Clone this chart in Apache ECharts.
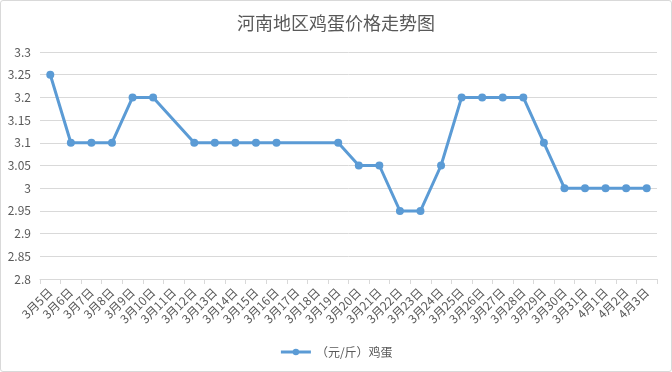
<!DOCTYPE html>
<html>
<head>
<meta charset="utf-8">
<script src="https://cdn.jsdelivr.net/npm/echarts@6/dist/echarts.min.js"></script>
<style>
html,body{margin:0;padding:0;background:#fff;}
#c{width:672px;height:372px;box-sizing:border-box;border:1px solid #d9d9d9;border-radius:3px;}
</style>
</head>
<body>
<div id="c"></div>
<script>
const categories = ['3月5日','3月6日','3月7日','3月8日','3月9日','3月10日','3月11日','3月12日','3月13日','3月14日','3月15日','3月16日','3月17日','3月18日','3月19日','3月20日','3月21日','3月22日','3月23日','3月24日','3月25日','3月26日','3月27日','3月28日','3月29日','3月30日','3月31日','4月1日','4月2日','4月3日'];
const eggPrice = [3.25,3.1,3.1,3.1,3.2,3.2,null,3.1,3.1,3.1,3.1,3.1,null,null,3.1,3.05,3.05,2.95,2.95,3.05,3.2,3.2,3.2,3.2,3.1,3.0,3.0,3.0,3.0,3.0];
const seriesName = '（元/斤）鸡蛋';
const titleText = '河南地区鸡蛋价格走势图';

const font = '"Noto Sans CJK SC", "Noto Sans", sans-serif';
const chart = echarts.init(document.getElementById('c'), null, {renderer:'canvas'});
chart.setOption({
  animation:false,
  textStyle:{fontFamily:font},
  title:{text:titleText,left:'center',top:8,textStyle:{fontSize:18,fontWeight:'normal',color:'#595959',fontFamily:font}},
  legend:{bottom:8,left:'center',itemWidth:30,itemHeight:8,lineStyle:{width:3},textStyle:{fontSize:12,color:'#595959',fontFamily:font},data:[seriesName]},
  grid:{left:39,right:14,top:51,bottom:92},
  xAxis:{type:'category',data:categories,boundaryGap:true,
    axisLine:{lineStyle:{color:'#d9d9d9',width:1}},
    axisTick:{show:true,length:5,lineStyle:{color:'#d9d9d9'}},
    axisLabel:{rotate:45,interval:0,fontSize:12,color:'#595959',margin:11,fontFamily:font}},
  yAxis:{type:'value',min:2.8,max:3.3,interval:0.05,
    axisLine:{show:false},axisTick:{show:false},
    splitLine:{lineStyle:{color:'#d9d9d9',width:1}},
    axisLabel:{fontSize:12,color:'#595959',margin:9,fontFamily:font,
      formatter:function(v){return String(Math.round(v*100)/100);}}},
  series:[{name:seriesName,type:'line',data:eggPrice,connectNulls:true,
    symbol:'circle',symbolSize:8,
    lineStyle:{color:'#5b9bd5',width:3},
    itemStyle:{color:'#5b9bd5'}}]
});
</script>
</body>
</html>
